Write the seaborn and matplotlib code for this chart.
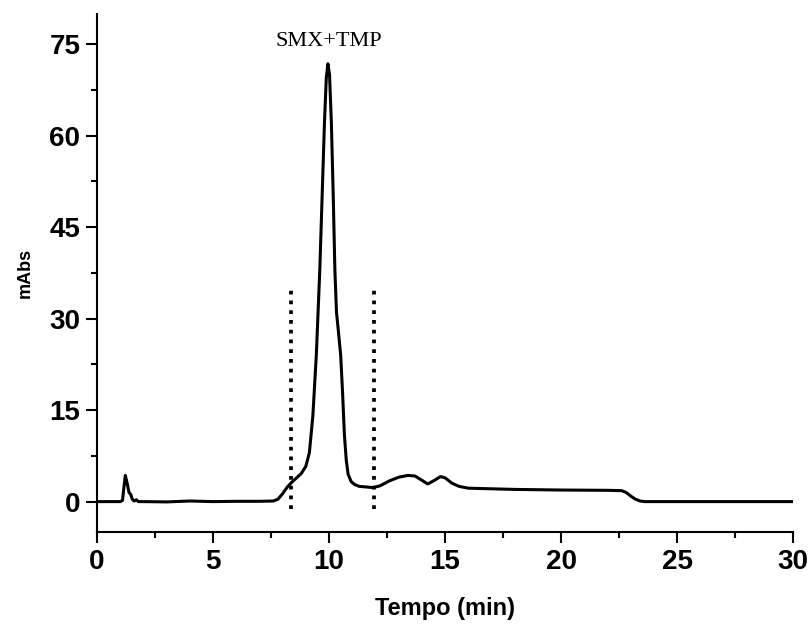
import pandas as pd
import matplotlib
matplotlib.use("Agg")
import matplotlib.pyplot as plt
import seaborn as sns
from matplotlib.ticker import MultipleLocator

# chromatogram (min, mAbs)
tempo = [0.0, 1.0, 1.1, 1.15, 1.22, 1.3, 1.38, 1.45, 1.52, 1.6, 1.7, 1.78,
         2.0, 3.0, 4.0, 5.0, 6.0, 7.0, 7.6, 7.8, 8.0, 8.2, 8.4, 8.6, 8.8,
         9.0, 9.15, 9.3, 9.45, 9.6, 9.7, 9.8, 9.88, 9.95, 10.02, 10.1,
         10.18, 10.25, 10.32, 10.4, 10.5, 10.58, 10.66, 10.74, 10.82,
         10.95, 11.1, 11.3, 11.6, 11.9, 12.2, 12.6, 13.0, 13.4, 13.7,
         14.0, 14.25, 14.5, 14.8, 15.0, 15.3, 15.6, 16.0, 17.0, 18.0,
         20.0, 22.0, 22.6, 22.8, 23.0, 23.2, 23.4, 23.6, 25.0, 30.0]
mabs = [0.0, 0.0, 0.2, 2.0, 4.3, 3.0, 1.5, 1.2, 0.4, 0.1, 0.3, 0.0,
        0.0, -0.05, 0.1, 0.0, 0.05, 0.05, 0.1, 0.4, 1.3, 2.4, 3.2, 3.9, 4.6,
        5.8, 8.0, 14.0, 24.0, 38.0, 50.0, 62.0, 69.5, 71.8, 70.0, 62.0,
        50.0, 38.0, 31.0, 28.0, 24.0, 18.0, 11.0, 6.8, 4.5,
        3.3, 2.8, 2.5, 2.4, 2.3, 2.6, 3.4, 4.0, 4.3, 4.2,
        3.5, 2.9, 3.4, 4.1, 3.9, 3.0, 2.5, 2.2, 2.1, 2.0,
        1.9, 1.85, 1.8, 1.5, 0.9, 0.4, 0.1, 0.0, 0.0, 0.0]

# integration window markers
janela_x = [8.36, 11.94]
janela_y = [-1.2, 35.0]

sns.set_style("ticks")
plt.rcParams['font.family'] = ['Liberation Sans', 'DejaVu Sans']
for key in ['text.color', 'axes.labelcolor', 'xtick.color', 'ytick.color', 'axes.edgecolor']:
    plt.rcParams[key] = 'black'

df = pd.DataFrame({'tempo': tempo, 'mabs': mabs})

fig = plt.figure(figsize=(8.11, 6.26), dpi=100)
ax = fig.add_axes([0.1196, 0.150, 0.8585, 0.828])

sns.lineplot(data=df, x='tempo', y='mabs', color='black', linewidth=2.2,
             sort=False, estimator=None, ax=ax)

for xv in janela_x:
    ax.plot([xv, xv], janela_y, color='black', linewidth=2.7,
            linestyle=(0, (1, 1.6)), dash_capstyle='butt')

ax.text(10.0, 75.5, 'SMX+TMP', family='Liberation Serif', fontsize=16,
        ha='center', va='center')

ax.set_xlim(0, 30)
ax.set_ylim(-5, 80)
ax.xaxis.set_major_locator(MultipleLocator(5))
ax.xaxis.set_minor_locator(MultipleLocator(2.5))
ax.yaxis.set_major_locator(MultipleLocator(15))
ax.yaxis.set_minor_locator(MultipleLocator(7.5))
ax.tick_params(which='major', length=8, width=1.5, direction='out', labelsize=20, pad=4)
ax.tick_params(which='minor', length=4, width=1.5, direction='out')
for lab in ax.get_xticklabels() + ax.get_yticklabels():
    lab.set_fontweight('bold')

ax.set_xlabel('Tempo (min)', fontsize=17, fontweight='bold', labelpad=16)
ax.set_ylabel('mAbs', fontsize=13, fontweight='bold', labelpad=11)

sns.despine(ax=ax)
for sp in ['left', 'bottom']:
    ax.spines[sp].set_linewidth(1.5)

fig.savefig('out.png', dpi=100)
